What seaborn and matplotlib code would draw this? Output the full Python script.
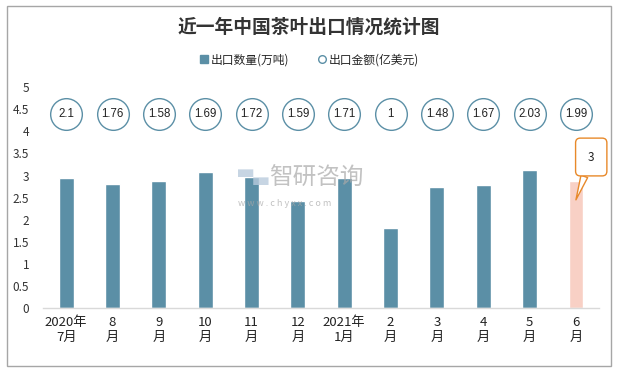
import numpy as np
import pandas as pd
import seaborn as sns
import matplotlib.pyplot as plt
from matplotlib.lines import Line2D
from matplotlib.patches import Rectangle

# 数据
months = ['2020年\n7月', '8\n月', '9\n月', '10\n月', '11\n月', '12\n月',
          '2021年\n1月', '2\n月', '3\n月', '4\n月', '5\n月', '6\n月']
volume = [2.94, 2.81, 2.88, 3.08, 2.97, 2.43, 2.94, 1.82, 2.74, 2.79, 3.13, 2.88]
amount = [2.1, 1.76, 1.58, 1.69, 1.72, 1.59, 1.71, 1, 1.48, 1.67, 2.03, 1.99]
amount_labels = ['2.1', '1.76', '1.58', '1.69', '1.72', '1.59', '1.71', '1', '1.48', '1.67', '2.03', '1.99']
callout_text = '3'

df = pd.DataFrame({'month': months, 'volume': volume, 'amount': amount})

sns.set_style('white')
plt.rcParams['font.family'] = ['Noto Sans CJK SC', 'DejaVu Sans']

bar_c = '#5b8fa6'
pink = '#f8d0c5'
colors = [bar_c] * 11 + [pink]

fig = plt.figure(figsize=(6.17, 3.71), dpi=100)
ax = fig.add_axes([0.0697, 0.1698, 0.9013, 0.595])

sns.barplot(data=df, x='month', y='volume', hue='month', palette=colors,
            legend=False, width=0.32, ax=ax, saturation=1)

# 金额圆圈
ypos = [4.4] * len(amount)
ax.scatter(range(len(amount)), ypos, s=520, facecolor='white',
           edgecolor='#5b8fa6', linewidth=1.0, zorder=3, clip_on=False)
for i, t in enumerate(amount_labels):
    ax.text(i, 4.4, t, ha='center', va='center', fontsize=8.3, color='#222222',
            zorder=4, family=['Liberation Sans', 'DejaVu Sans'])

# 最后一根柱子的标注
ax.annotate(callout_text, xy=(11.0, 2.45), xytext=(11.33, 3.42),
            ha='center', va='center', fontsize=8.5, color='#222222',
            bbox=dict(boxstyle='round,pad=1.05,rounding_size=0.4', fc='white',
                      ec='#e8892a', lw=1.0),
            arrowprops=dict(arrowstyle='wedge,tail_width=0.6', fc='white',
                            ec='#e8892a', lw=1.0, shrinkA=0, shrinkB=0),
            annotation_clip=False, zorder=5)

ax.set_xlim(-0.5, 11.5)
ax.set_ylim(0, 5)
ax.set_yticks(np.arange(0, 5.01, 0.5))
ax.set_yticklabels(['0', '0.5', '1', '1.5', '2', '2.5', '3', '3.5', '4', '4.5', '5'])
ax.set_xlabel('')
ax.set_ylabel('')
ax.tick_params(axis='y', labelsize=8.5, length=0, pad=10, colors='#333333')
ax.tick_params(axis='x', labelsize=9.5, length=0, pad=6, colors='#222222')
for s in ['top', 'right', 'left']:
    ax.spines[s].set_visible(False)
ax.spines['bottom'].set_color('#d9d9d9')
ax.spines['bottom'].set_linewidth(1.0)

# 标题和图例
fig.text(0.5, 0.927, '近一年中国茶叶出口情况统计图', ha='center', va='center',
         fontsize=13.5, fontweight='bold', color='#333333')
handles = [Line2D([], [], marker='s', linestyle='', markersize=6, color=bar_c),
           Line2D([], [], marker='o', linestyle='', markersize=5.5,
                  markerfacecolor='white', markeredgecolor='#5b8fa6')]
fig.legend(handles, ['出口数量(万吨)', '出口金额(亿美元)'], loc='center',
           bbox_to_anchor=(0.5, 0.838), ncol=2, frameon=False, fontsize=8.5,
           handletextpad=0.1, columnspacing=2.2, handlelength=1.0)

# 水印
fig.text(0.386, 0.518, '▀▄', fontsize=11, color='#b9cbdc', alpha=0.8,
         ha='left', va='center')
fig.text(0.436, 0.518, '智研咨询', fontsize=17, color='#a8a8a8', alpha=0.7,
         ha='left', va='center')
fig.text(0.386, 0.452, 'w w w . c h y x x . c o m', fontsize=6.5,
         color='#a8a8a8', alpha=0.7, ha='left', va='center')

# 外框
fig.patches.append(Rectangle((0.011, 0.0135), 0.979, 0.970, transform=fig.transFigure,
                             fill=False, edgecolor='#a6a6a6', linewidth=1.0))

fig.savefig('out.png', dpi=100)
